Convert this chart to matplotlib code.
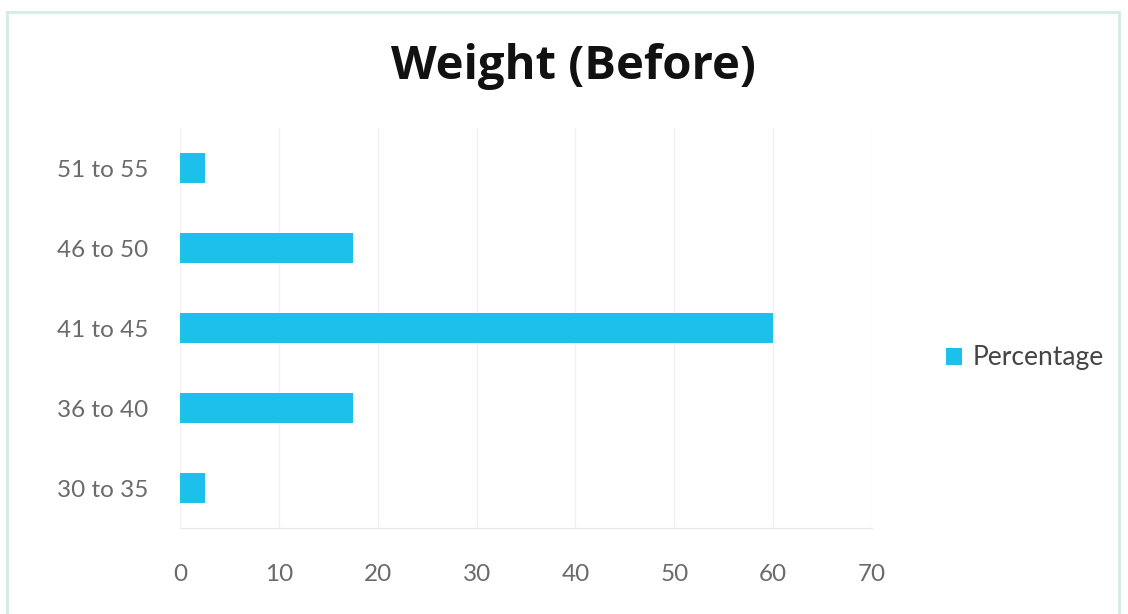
import matplotlib.pyplot as plt
from matplotlib.patches import Rectangle

# Share of people in each weight band (kg), before
categories = ['30 to 35', '36 to 40', '41 to 45', '46 to 50', '51 to 55']
percentage = [2.5, 17.5, 60, 17.5, 2.5]
x_ticks = [0, 10, 20, 30, 40, 50, 60, 70]

bar_color = '#1DC0EA'
label_color = '#6A6A6A'

fig = plt.figure(figsize=(11.28, 6.14), dpi=100)
ax = fig.add_axes([0.1596, 0.140, 0.6135, 0.6515])

ax.barh(categories, percentage, height=0.37, color=bar_color, label='Percentage', zorder=3)

ax.set_xlim(0, 70)
ax.set_ylim(-0.5, len(categories) - 0.5)
ax.set_xticks(x_ticks)
ax.grid(axis='x', color='#F1F1F1', linewidth=1, zorder=0)

for side in ['top', 'right', 'left']:
    ax.spines[side].set_visible(False)
ax.spines['bottom'].set_color('#E8E8E8')
ax.tick_params(axis='both', length=0, labelsize=17.5, labelcolor=label_color)
ax.tick_params(axis='x', pad=26)
ax.tick_params(axis='y', pad=23)
for lbl in ax.get_xticklabels() + ax.get_yticklabels():
    lbl.set_fontfamily('Lato')

fig.suptitle('Weight (Before)', x=0.508, y=0.891, va='center', fontsize=34,
             fontweight='bold', fontfamily='Open Sans', color='#111111')

fig.legend(loc='center left', bbox_to_anchor=(0.818, 0.417), frameon=False,
           handlelength=0.6, handleheight=0.6, handletextpad=0.4,
           prop={'family': 'Lato', 'size': 19}, labelcolor='#444444')

# light frame around the chart area
fig.patches.append(Rectangle((0.006, -0.05), 0.986, 1.03, transform=fig.transFigure,
                             fill=False, edgecolor='#D3ECE4', linewidth=2))

fig.savefig('out.png', dpi=100)
